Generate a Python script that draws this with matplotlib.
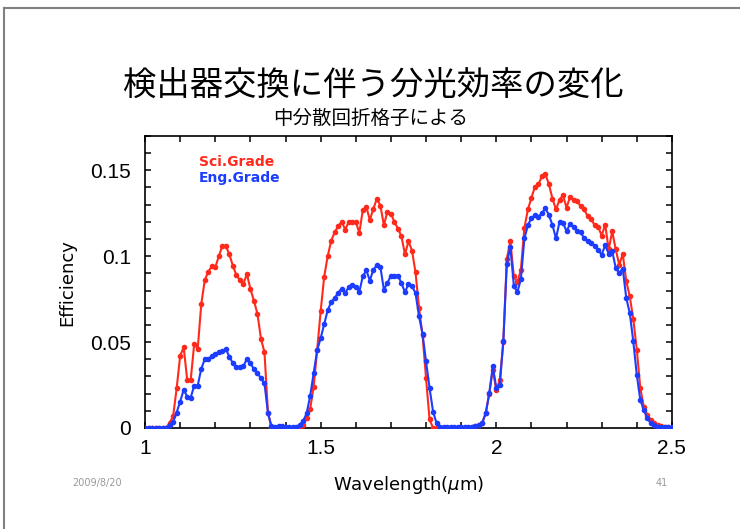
import numpy as np
import matplotlib
matplotlib.use("Agg")
import matplotlib.pyplot as plt
from matplotlib.lines import Line2D
from matplotlib.ticker import MultipleLocator

# wavelength grid (um), 0.01 step
wavelength = np.round(np.arange(1.00, 2.505, 0.01), 2)

# Sci.Grade efficiency
sci_grade = (
    [0.0] * 7
    + [0.003, 0.007, 0.023, 0.042, 0.047, 0.028, 0.028, 0.049, 0.046, 0.072,
       0.086, 0.091, 0.094, 0.0935, 0.100, 0.106, 0.106, 0.101, 0.0945, 0.089,
       0.086, 0.084, 0.0895, 0.081, 0.074, 0.0665, 0.052, 0.044, 0.009, 0.0]
    + [0.0] * 7
    + [0.0006, 0.002, 0.006, 0.011, 0.024, 0.0455, 0.068, 0.088, 0.100, 0.109,
       0.114, 0.1175, 0.120, 0.1155, 0.120, 0.120, 0.120, 0.1136, 0.1268, 0.1288,
       0.121, 0.1276, 0.1334, 0.1295, 0.118, 0.126, 0.1247, 0.120, 0.116, 0.1116,
       0.101, 0.1087, 0.1033, 0.0906, 0.070, 0.054, 0.029, 0.005, 0.0]
    + [0.0] * 10
    + [0.0008, 0.0012, 0.0018, 0.003, 0.0086, 0.020, 0.034, 0.022, 0.028, 0.050,
       0.0986, 0.1087, 0.0883, 0.0848, 0.0922, 0.1165, 0.1272, 0.134, 0.1404, 0.1418,
       0.1466, 0.1476, 0.1418, 0.1334, 0.1272, 0.133, 0.1354, 0.1282, 0.1346, 0.133,
       0.132, 0.1291, 0.1272, 0.1233, 0.1218, 0.1179, 0.1171, 0.112, 0.1184, 0.1039,
       0.1145, 0.1039, 0.0951, 0.1013, 0.0854, 0.0766, 0.0634, 0.0455, 0.0232, 0.0124,
       0.0076, 0.0047, 0.0027, 0.0018, 0.001, 0.0005, 0.0003, 0.0]
)

# Eng.Grade efficiency
eng_grade = (
    [0.0] * 7
    + [0.0017, 0.0037, 0.009, 0.0154, 0.0222, 0.0183, 0.0177, 0.0247, 0.0247, 0.0344,
       0.040, 0.040, 0.042, 0.0432, 0.0441, 0.0449, 0.0459, 0.0416, 0.0377, 0.0352,
       0.0352, 0.0358, 0.0404, 0.0377, 0.0342, 0.0319, 0.029, 0.026, 0.0086, 0.001]
    + [0.0005, 0.001, 0.001, 0.0005, 0.0003, 0.0003, 0.0005]
    + [0.002, 0.004, 0.0085, 0.0185, 0.032, 0.0451, 0.0523, 0.0605, 0.0685, 0.0734,
       0.0757, 0.0788, 0.0811, 0.0786, 0.0821, 0.0834, 0.0821, 0.0792, 0.0883, 0.0918,
       0.0858, 0.0922, 0.0947, 0.0937, 0.0805, 0.0844, 0.0887, 0.0887, 0.0887, 0.0844,
       0.0789, 0.084, 0.0825, 0.0786, 0.065, 0.0548, 0.0387, 0.0232, 0.0095]
    + [0.0027, 0.0005, 0.0003, 0.0003, 0.0003, 0.0003, 0.0003, 0.0003, 0.0005, 0.0005]
    + [0.0008, 0.0012, 0.0018, 0.0031, 0.0086, 0.0202, 0.0358, 0.0235, 0.0251, 0.0504,
       0.0957, 0.1054, 0.0828, 0.079, 0.0867, 0.1103, 0.118, 0.1223, 0.1237, 0.1229,
       0.1252, 0.1278, 0.1239, 0.118, 0.1103, 0.12, 0.1194, 0.1145, 0.1188, 0.1171,
       0.1149, 0.1142, 0.1103, 0.1087, 0.1074, 0.1058, 0.1035, 0.1009, 0.1064, 0.1013,
       0.1029, 0.0932, 0.0902, 0.0928, 0.0757, 0.0669, 0.0504, 0.0309, 0.0163, 0.0105,
       0.0056, 0.0027, 0.0018, 0.0008, 0.0005, 0.0005, 0.0003, 0.0003]
)

series_names = ["Sci.Grade", "Eng.Grade"]
title = "検出器交換に伴う分光効率の変化"
subtitle = "中分散回折格子による"
footer_date = "2009/8/20"
page_no = "41"

RED = "#ff2a1c"
BLUE = "#1c3cff"


def main():
    fig = plt.figure(figsize=(7.4, 5.29), dpi=100)
    ax = fig.add_axes([0.196, 0.191, 0.712, 0.552])

    ax.plot(wavelength, sci_grade, color=RED, lw=1.5, marker="o", ms=3.0,
            mec=RED, mfc=RED, zorder=3)
    ax.plot(wavelength, eng_grade, color=BLUE, lw=1.5, marker="o", ms=3.0,
            mec=BLUE, mfc=BLUE, zorder=4)

    ax.set_xlim(1, 2.5)
    ax.set_ylim(0, 0.17)
    ax.xaxis.set_major_locator(MultipleLocator(0.5))
    ax.xaxis.set_minor_locator(MultipleLocator(0.1))
    ax.yaxis.set_major_locator(MultipleLocator(0.05))
    ax.yaxis.set_minor_locator(MultipleLocator(0.01))
    ax.set_xticks([1, 1.5, 2, 2.5], ["1", "1.5", "2", "2.5"])
    ax.set_yticks([0, 0.05, 0.1, 0.15], ["0", "0.05", "0.1", "0.15"])
    ax.tick_params(which="both", direction="in", top=True, right=True,
                   length=4, width=1.1)
    ax.tick_params(axis="x", pad=8)
    ax.tick_params(axis="y", pad=10)
    for lab in ax.get_xticklabels() + ax.get_yticklabels():
        lab.set_fontfamily("Liberation Sans")
        lab.set_fontsize(15)
    for sp in ax.spines.values():
        sp.set_linewidth(1.2)

    ax.set_xlabel("Wavelength($\\mu$m)", fontsize=13, va="center")
    ax.xaxis.set_label_coords(0.5, -0.195)
    ax.set_ylabel("Efficiency", fontsize=13, va="center")
    ax.yaxis.set_label_coords(-0.148, 0.497)

    ax.text(0.1025, 0.911, series_names[0], color=RED, fontsize=10,
            fontweight="bold", transform=ax.transAxes, va="center")
    ax.text(0.1025, 0.856, series_names[1], color=BLUE, fontsize=10,
            fontweight="bold", transform=ax.transAxes, va="center")

    cjk = ["Noto Sans CJK JP", "DejaVu Sans"]
    fig.text(0.505, 0.839, title, fontsize=24, family=cjk, ha="center", va="center")
    fig.text(0.501, 0.777, subtitle, fontsize=14, family=cjk, ha="center", va="center")

    fig.text(97 / 740, 1 - 483 / 529, footer_date, fontsize=7, color="#999999",
             ha="center", va="center")
    fig.text(662 / 740, 1 - 483 / 529, page_no, fontsize=7, color="#999999",
             ha="center", va="center")

    # slide frame
    fig.add_artist(Line2D([4 / 740, 4 / 740], [0, 1 - 8 / 529],
                          transform=fig.transFigure, color="#808080", lw=1.5))
    fig.add_artist(Line2D([4 / 740, 1], [1 - 8 / 529, 1 - 8 / 529],
                          transform=fig.transFigure, color="#808080", lw=1.5))

    fig.savefig("out.png", dpi=100)


if __name__ == "__main__":
    main()
